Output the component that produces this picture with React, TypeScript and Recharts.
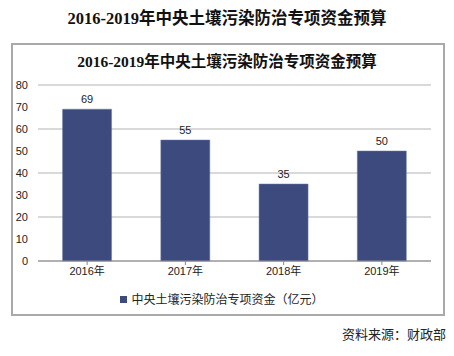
import { BarChart, Bar, XAxis, YAxis, CartesianGrid, Legend, LabelList } from "recharts";

const years = ["2016年", "2017年", "2018年", "2019年"];
const funds = [69, 55, 35, 50];
const yTicks = [0, 10, 20, 30, 40, 50, 60, 70, 80];
const seriesName = "中央土壤污染防治专项资金（亿元）";

const data = years.map((y, i) => ({ year: y, value: funds[i] }));

const FONT = "Arial, 'Liberation Sans', 'Noto Sans CJK SC', sans-serif";

export default function App() {
  return (
    <div style={{ position: "absolute", left: 0, top: 0, width: 454, height: 356, background: "#fff", fontFamily: FONT }}>
      <div
        style={{
          position: "absolute",
          left: 0,
          top: 5,
          width: 454,
          textAlign: "center",
          fontFamily: "'Liberation Serif', 'Noto Sans CJK SC', serif",
          fontWeight: "bold",
          fontSize: 16.5,
          color: "#111",
        }}
      >
        2016-2019年中央土壤污染防治专项资金预算
      </div>
      <div
        style={{
          position: "absolute",
          left: 11,
          top: 43,
          width: 430,
          height: 269,
          border: "2px solid #a9a9a9",
        }}
      />
      <div
        style={{
          position: "absolute",
          left: 0,
          top: 49,
          width: 454,
          textAlign: "center",
          fontFamily: "'Liberation Serif', 'Noto Sans CJK SC', serif",
          fontWeight: "bold",
          fontSize: 15.5,
          color: "#111",
        }}
      >
        2016-2019年中央土壤污染防治专项资金预算
      </div>
      <div style={{ position: "absolute", left: 0, top: 0 }}>
        <BarChart width={454} height={356} data={data} margin={{ top: 85, right: 23, left: 0, bottom: 75 }} barCategoryGap="25%">
          <CartesianGrid vertical={false} stroke="#b3b3b3" />
          <XAxis
            dataKey="year"
            height={20}
            tick={{ fill: "#222", fontSize: 11 }}
            axisLine={{ stroke: "#888" }}
            tickLine={{ stroke: "#888" }}
            tickSize={4}
            interval={0}
          />
          <YAxis
            width={38}
            domain={[0, 80]}
            ticks={yTicks}
            tick={{ fill: "#222", fontSize: 11 }}
            axisLine={false}
            tickLine={false}
            tickMargin={4}
          />
          <Legend
            verticalAlign="middle"
            align="center"
            layout="horizontal"
            iconType="square"
            iconSize={7}
            wrapperStyle={{ top: 290, left: 0, width: 454 }}
            formatter={(v) => <span style={{ color: "#222", fontSize: 12, fontFamily: "'Noto Sans CJK SC', sans-serif" }}>{v}</span>}
          />
          <Bar dataKey="value" name={seriesName} fill="#3c4a7e" stroke="#6b7aa8" strokeWidth={0.5} isAnimationActive={false}>
            <LabelList dataKey="value" position="top" offset={6} fill="#222" fontSize={11} />
          </Bar>
        </BarChart>
      </div>
      <div
        style={{
          position: "absolute",
          right: 8,
          top: 324,
          fontSize: 13,
          color: "#222",
          fontFamily: "'Noto Sans CJK SC', sans-serif",
        }}
      >
        资料来源：财政部
      </div>
    </div>
  );
}
